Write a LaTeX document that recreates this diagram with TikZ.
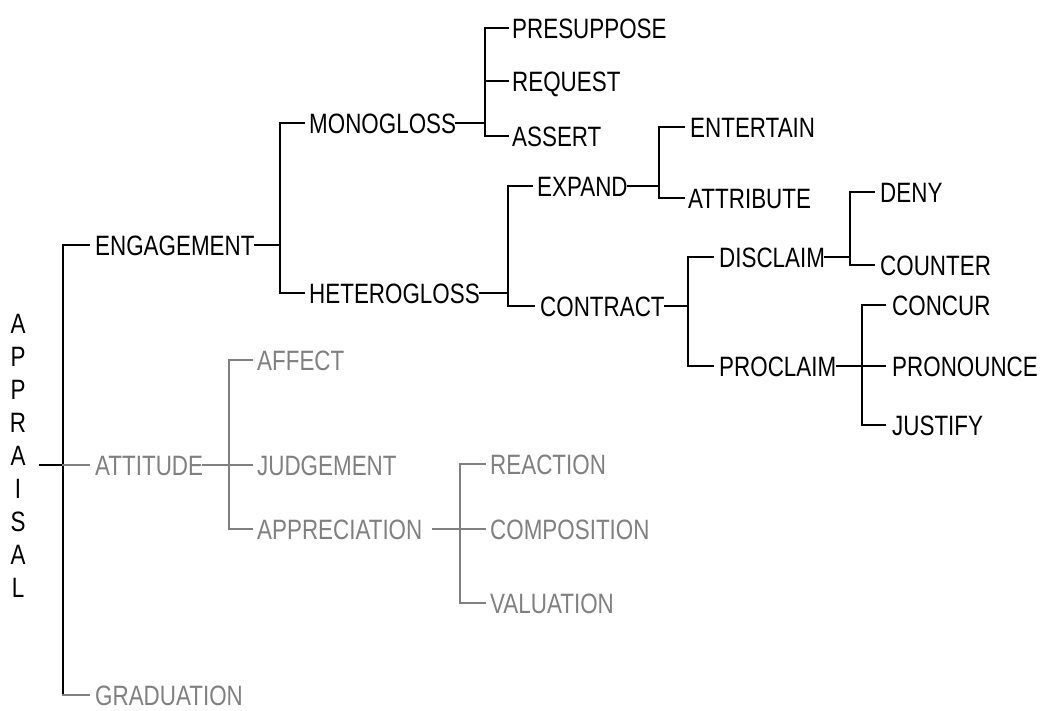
\documentclass[tikz,border=0pt]{standalone}
\usepackage{fontspec}
\setmainfont{Liberation Sans}[FakeStretch=0.80]
\definecolor{attgrey}{RGB}{128,128,128}
\begin{document}
\begin{tikzpicture}[x=1pt,y=-1pt,
  lab/.style={anchor=west,inner sep=0pt,text height=20pt,text depth=0pt,
              font=\fontsize{28}{33}\selectfont},
  blk/.style={lab,text=black},
  gry/.style={lab,text=attgrey},
  wire/.style={line width=1.6pt,black,line cap=rect},
  gwire/.style={line width=1.6pt,attgrey,line cap=rect}]
\useasboundingbox (0,0) rectangle (1043,710);

% vertical rails of the system network
\coordinate (v0) at (63,0);
\coordinate (v1) at (280,0);
\coordinate (v2) at (485,0);
\coordinate (v3) at (508,0);
\coordinate (v4) at (659,0);
\coordinate (v5) at (688,0);
\coordinate (v6) at (850,0);
\coordinate (v7) at (862,0);
\coordinate (g1) at (229,0);
\coordinate (g2) at (460,0);

% root label
\node[inner sep=0pt,align=center,font=\fontsize{28}{33}\selectfont] (root) at (18,456)
  {A\\P\\P\\R\\A\\I\\S\\A\\L};
\coordinate (rootend) at (40,465);

% engagement branch
\node[blk] (eng)    at (95,245)  {ENGAGEMENT};
\node[blk] (mono)   at (309,123) {MONOGLOSS};
\node[blk] (het)    at (309,293) {HETEROGLOSS};
\node[blk] (presup) at (512,28)  {PRESUPPOSE};
\node[blk] (req)    at (512,81)  {REQUEST};
\node[blk] (ass)    at (512,136) {ASSERT};
\node[blk] (exp)    at (537,186) {EXPAND};
\node[blk] (con)    at (540,306) {CONTRACT};
\node[blk] (ent)    at (690,127) {ENTERTAIN};
\node[blk] (att)    at (688,198) {ATTRIBUTE};
\node[blk] (dis)    at (719,257) {DISCLAIM};
\node[blk] (pro)    at (719,366) {PROCLAIM};
\node[blk] (deny)   at (880,192) {DENY};
\node[blk] (cnt)    at (880,265) {COUNTER};
\node[blk] (ccr)    at (892,305) {CONCUR};
\node[blk] (prn)    at (892,366) {PRONOUNCE};
\node[blk] (jus)    at (892,425) {JUSTIFY};

% attitude and graduation branches
\node[gry] (atti)  at (95,465)  {ATTITUDE};
\node[gry] (grad)  at (95,695)  {GRADUATION};
\node[gry] (aff)   at (257,360) {AFFECT};
\node[gry] (judg)  at (257,465) {JUDGEMENT};
\node[gry] (appr)  at (257,529) {APPRECIATION};
\node[gry] (reac)  at (490,464) {REACTION};
\node[gry] (comp)  at (490,529) {COMPOSITION};
\node[gry] (val)   at (490,603) {VALUATION};

% root rail
\draw[wire] (rootend) -- (rootend -| v0);
\draw[wire] (eng.west -| v0) -- (grad.west -| v0);
\draw[wire] (eng.west -| v0) -- ([xshift=-6pt]eng.west);
\draw[gwire] (atti.west -| v0) -- ([xshift=-6pt]atti.west);
\draw[gwire] (grad.west -| v0) -- ([xshift=-6pt]grad.west);

% engagement
\draw[wire] (eng.east) -- (eng.east -| v1);
\draw[wire] (mono.west -| v1) -- (het.west -| v1);
\draw[wire] (mono.west -| v1) -- ([xshift=-5pt]mono.west);
\draw[wire] (het.west -| v1) -- ([xshift=-5pt]het.west);

% monogloss
\draw[wire] (mono.east) -- (mono.east -| v2);
\draw[wire] (presup.west -| v2) -- (ass.west -| v2);
\draw[wire] (presup.west -| v2) -- ([xshift=-4pt]presup.west);
\draw[wire] (req.west -| v2) -- ([xshift=-4pt]req.west);
\draw[wire] (ass.west -| v2) -- ([xshift=-4pt]ass.west);

% heterogloss
\draw[wire] (het.east) -- (het.east -| v3);
\draw[wire] (exp.west -| v3) -- (con.west -| v3);
\draw[wire] (exp.west -| v3) -- ([xshift=-5pt]exp.west);
\draw[wire] (con.west -| v3) -- ([xshift=-6pt]con.west);

% expand
\draw[wire] (exp.east) -- (exp.east -| v4);
\draw[wire] (ent.west -| v4) -- (att.west -| v4);
\draw[wire] (ent.west -| v4) -- ([xshift=-6pt]ent.west);
\draw[wire] (att.west -| v4) -- ([xshift=-4pt]att.west);

% contract
\draw[wire] (con.east) -- (con.east -| v5);
\draw[wire] (dis.west -| v5) -- (pro.west -| v5);
\draw[wire] (dis.west -| v5) -- ([xshift=-6pt]dis.west);
\draw[wire] (pro.west -| v5) -- ([xshift=-6pt]pro.west);

% disclaim
\draw[wire] (dis.east) -- (dis.east -| v6);
\draw[wire] (deny.west -| v6) -- (cnt.west -| v6);
\draw[wire] (deny.west -| v6) -- ([xshift=-6pt]deny.west);
\draw[wire] (cnt.west -| v6) -- ([xshift=-6pt]cnt.west);

% proclaim
\draw[wire] (pro.east) -- (pro.east -| v7);
\draw[wire] (ccr.west -| v7) -- (jus.west -| v7);
\draw[wire] (ccr.west -| v7) -- ([xshift=-7pt]ccr.west);
\draw[wire] (prn.west -| v7) -- ([xshift=-7pt]prn.west);
\draw[wire] (jus.west -| v7) -- ([xshift=-7pt]jus.west);

% attitude
\draw[gwire] (atti.east) -- (atti.east -| g1);
\draw[gwire] (aff.west -| g1) -- (appr.west -| g1);
\draw[gwire] (aff.west -| g1) -- ([xshift=-5pt]aff.west);
\draw[gwire] (judg.west -| g1) -- ([xshift=-5pt]judg.west);
\draw[gwire] (appr.west -| g1) -- ([xshift=-5pt]appr.west);

% appreciation
\draw[gwire] ([xshift=10pt]appr.east) -- (appr.east -| g2);
\draw[gwire] (reac.west -| g2) -- (val.west -| g2);
\draw[gwire] (reac.west -| g2) -- ([xshift=-5pt]reac.west);
\draw[gwire] (comp.west -| g2) -- ([xshift=-5pt]comp.west);
\draw[gwire] (val.west -| g2) -- ([xshift=-5pt]val.west);
\end{tikzpicture}
\end{document}
